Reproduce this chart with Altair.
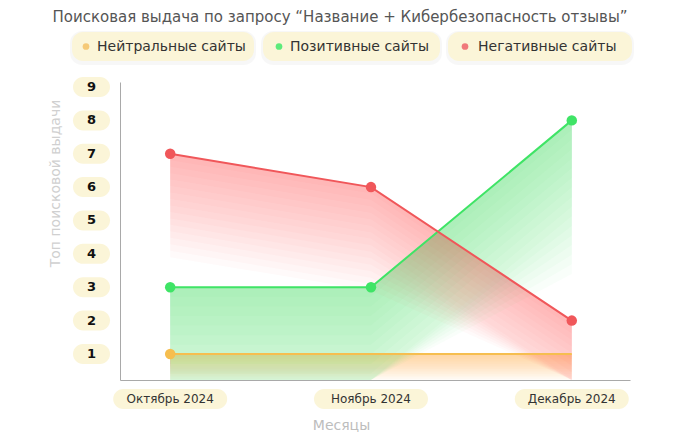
import altair as alt
import pandas as pd

# ---- data ----
months = ["Октябрь 2024", "Ноябрь 2024", "Декабрь 2024"]
series_names = ["Нейтральные сайты", "Позитивные сайты", "Негативные сайты"]
neutral = [1, 1, 1]
positive = [3, 3, 8]
negative = [7, 6, 2]
y_ticks = [1, 2, 3, 4, 5, 6, 7, 8, 9]

title_text = "Поисковая выдача по запросу “Название + Кибербезопасность отзывы”"
x_title = "Месяцы"
y_title = "Топ поисковой выдачи"

# ---- styles ----
line_colors = ["#F6BE4F", "#3FE466", "#F0575A"]
dot_colors = ["#F5C977", "#5DEB7B", "#F0787A"]
fade_depth = [0.8, 4.6, 3.1]
band_alpha = [0.04, 0.032, 0.027]
FONT = "DejaVu Sans"
PILL = "#FBF5D8"
N_BANDS = 16
Y_MIN, Y_MAX = 0.22, 9.15
X_MIN, X_MAX = -0.25, 2.29
W, H = 510, 298

values = [neutral, positive, negative]
rows = []
for s, name in enumerate(series_names):
    for i, m in enumerate(months):
        rows.append({"idx": i, "month": m, "series": name, "value": values[s][i],
                     "depth": fade_depth[s], "alpha": band_alpha[s], "order": s})
df = pd.DataFrame(rows)
ticks_df = pd.DataFrame({"t": y_ticks})
months_df = pd.DataFrame({"idx": list(range(len(months))), "month": months})

xscale = alt.Scale(domain=[X_MIN, X_MAX], nice=False, zero=False)
yscale = alt.Scale(domain=[Y_MIN, Y_MAX], nice=False, zero=False)
cscale = alt.Scale(domain=series_names, range=line_colors)

x_enc = alt.X("idx:Q", scale=xscale, axis=alt.Axis(
    labels=False, ticks=False, grid=False, domainColor="#A9A9A9", domainWidth=1,
    title=x_title, titleX=221, titleY=45, titleFont=FONT, titleFontSize=14,
    titleFontWeight="normal", titleColor="#BDBDBD", titleBaseline="middle", titleAlign="center"))
y_enc = alt.Y("value:Q", scale=yscale, axis=alt.Axis(
    labels=False, ticks=False, grid=False, domainColor="#A9A9A9", domainWidth=1,
    title=y_title, titleX=-65, titleY=101, titleAngle=270, titleFont=FONT, titleFontSize=14,
    titleFontWeight="normal", titleColor="#D0D0D0", titleBaseline="middle", titleAlign="center"))

base = alt.Chart(df)

bands = base.transform_calculate(
    k=f"sequence(0, {N_BANDS})"
).transform_flatten(["k"]).transform_calculate(
    bottom=f"max(datum.value - datum.depth * (datum.k + 1) / {N_BANDS}, {Y_MIN})"
).mark_area(interpolate="linear", strokeWidth=0).encode(
    x=x_enc,
    y=y_enc,
    y2="bottom:Q",
    color=alt.Color("series:N", scale=cscale, legend=None),
    detail="k:Q",
    opacity=alt.Opacity("alpha:Q", scale=None),
)

lines = base.mark_line(strokeWidth=2).encode(
    x=alt.X("idx:Q", scale=xscale),
    y=alt.Y("value:Q", scale=yscale),
    color=alt.Color("series:N", scale=cscale, legend=None),
    strokeWidth=alt.condition(alt.datum.order == 0, alt.value(2.6), alt.value(1.8)),
)

# neutral series shows its marker only at the first month
points = base.transform_filter(
    (alt.datum.order != 0) | (alt.datum.idx == 0)
).mark_circle(size=110, opacity=1).encode(
    x=alt.X("idx:Q", scale=xscale),
    y=alt.Y("value:Q", scale=yscale),
    color=alt.Color("series:N", scale=cscale, legend=None),
)

# y tick pills
ypill = alt.Chart(ticks_df).mark_rect(cornerRadius=10, fill=PILL, yOffset=-10, y2Offset=10).encode(
    y=alt.Y("t:Q", scale=yscale), y2=alt.Y2("t:Q"), x=alt.value(-47), x2=alt.value(-10))
ytext = alt.Chart(ticks_df).mark_text(font=FONT, fontSize=13, fontWeight="bold", color="#111",
                                      baseline="middle", align="center").encode(
    y=alt.Y("t:Q", scale=yscale), x=alt.value(-28.5), text="t:Q")

# x tick pills
xpill = alt.Chart(months_df).mark_rect(cornerRadius=10, fill=PILL, xOffset=-57, x2Offset=57).encode(
    x=alt.X("idx:Q", scale=xscale), x2=alt.X2("idx:Q"), y=alt.value(307), y2=alt.value(327))
xtext = alt.Chart(months_df).mark_text(font=FONT, fontSize=12, color="#333",
                                       baseline="middle", align="center").encode(
    x=alt.X("idx:Q", scale=xscale), y=alt.value(317), text="month:N")

# custom legend pills
legend_layers = []
pill_x = [(-48, 134), (143, 320), (328, 512)]
dot_x = [-34, 159, 345]
text_x = [-23, 170, 358]
for i, name in enumerate(series_names):
    ldf = pd.DataFrame({"name": [name]})
    legend_layers.append(alt.Chart(ldf).mark_rect(cornerRadius=12, fill="#000", opacity=0.03).encode(
        x=alt.value(pill_x[i][0] - 2), x2=alt.value(pill_x[i][1] + 2),
        y=alt.value(-51), y2=alt.value(-17)))
    legend_layers.append(alt.Chart(ldf).mark_rect(cornerRadius=11, fill=PILL).encode(
        x=alt.value(pill_x[i][0]), x2=alt.value(pill_x[i][1]),
        y=alt.value(-50), y2=alt.value(-21)))
    legend_layers.append(alt.Chart(ldf).mark_circle(size=45, opacity=1, color=dot_colors[i]).encode(
        x=alt.value(dot_x[i]), y=alt.value(-35.5)))
    legend_layers.append(alt.Chart(ldf).mark_text(font=FONT, fontSize=14, color="#333",
                                                  align="left", baseline="middle").encode(
        x=alt.value(text_x[i]), y=alt.value(-35.5), text="name:N"))

chart = alt.layer(
    bands, lines, points, ypill, ytext, xpill, xtext, *legend_layers
).properties(
    width=W, height=H,
    title=alt.TitleParams(title_text, font=FONT, fontSize=15, fontWeight="normal", color="#555",
                          anchor="middle", frame="group", dx=-35, offset=6),
    autosize=alt.AutoSizeParams(type="none"),
    padding={"left": 112, "top": 74, "right": 42, "bottom": 56},
).configure_view(stroke=None)

chart.save("out.html", embed_options={"renderer": "svg", "actions": False})
